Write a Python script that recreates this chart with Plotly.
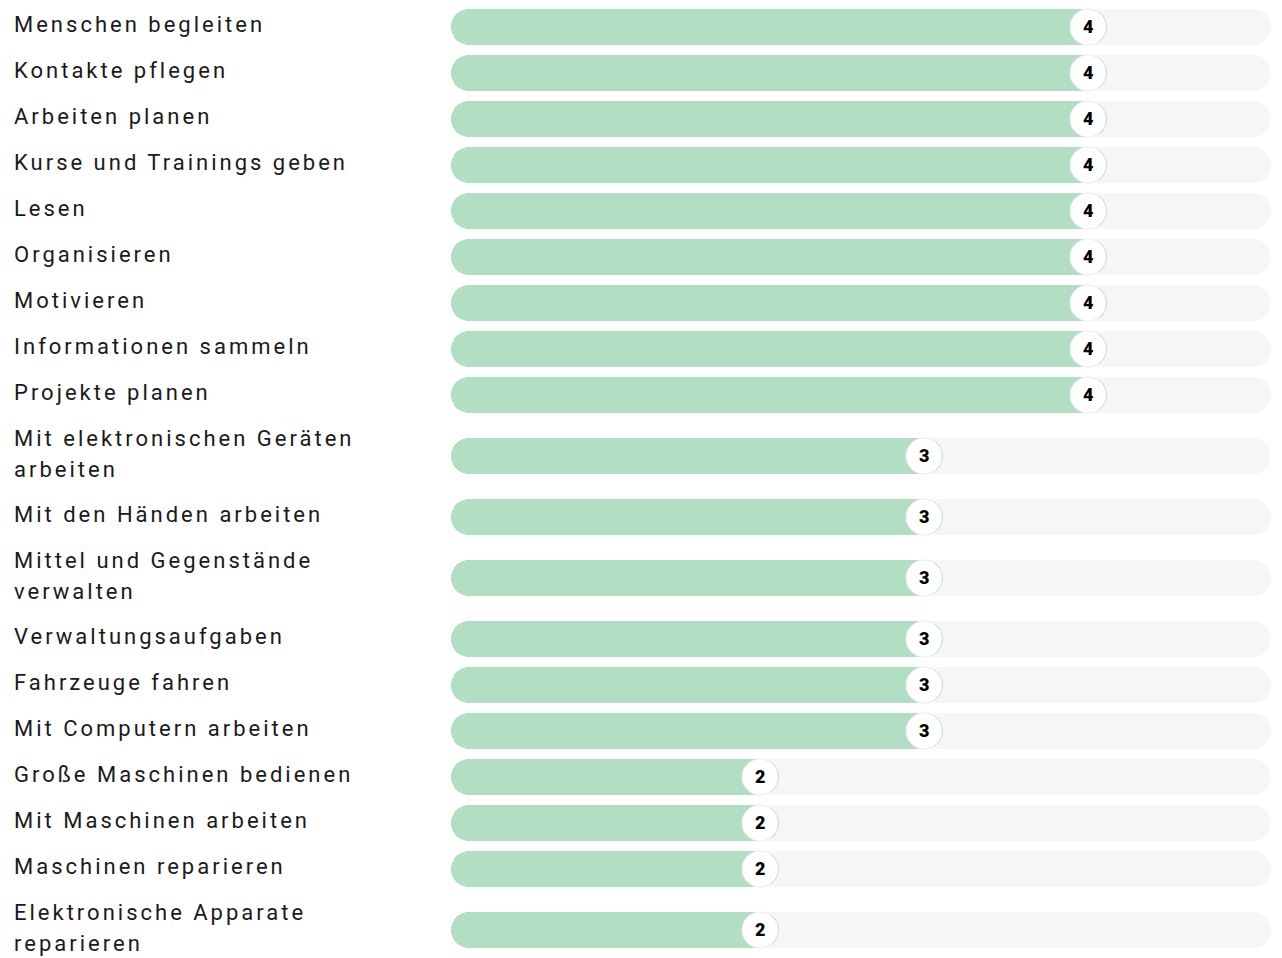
import plotly.graph_objects as go

# ---- data ----
labels = [
    "Menschen begleiten",
    "Kontakte pflegen",
    "Arbeiten planen",
    "Kurse und Trainings geben",
    "Lesen",
    "Organisieren",
    "Motivieren",
    "Informationen sammeln",
    "Projekte planen",
    "Mit elektronischen Geräten<br>arbeiten",
    "Mit den Händen arbeiten",
    "Mittel und Gegenstände<br>verwalten",
    "Verwaltungsaufgaben",
    "Fahrzeuge fahren",
    "Mit Computern arbeiten",
    "Große Maschinen bedienen",
    "Mit Maschinen arbeiten",
    "Maschinen reparieren",
    "Elektronische Apparate<br>reparieren",
]
scores = [4, 4, 4, 4, 4, 4, 4, 4, 4, 3, 3, 3, 3, 3, 3, 2, 2, 2, 2]
max_score = 5

# ---- layout constants (pixels) ----
W, H = 1282, 958
ROW_H = 46        # height of a single-line row
LINE_H = 30       # extra height per additional label line
BAR_H = 36
TOP = 4
M_LEFT, M_RIGHT = 451, 11
LABEL_X = 12
RADIUS = BAR_H / 2

GREEN = "#b2dec4"
TRACK = "#f6f6f6"
TEXT = "#1a1a1a"

# row centres from label line counts
centres = []
y = TOP
for lab in labels:
    n = lab.count("<br>") + 1
    h = ROW_H + LINE_H * (n - 1)
    centres.append(y + h / 2)
    y += h

n_rows = len(labels)
fig = go.Figure()

def rounded_bar(length_list, color):
    # two overlapping halves, each rounded at its outer end
    left = [0.55 * v for v in length_list]
    right_base = [0.45 * v for v in length_list]
    fig.add_trace(go.Bar(
        orientation="h", y=centres, base=left, x=[-v for v in left],
        width=BAR_H, marker=dict(color=color, line=dict(width=0), cornerradius=RADIUS),
        hoverinfo="skip", showlegend=False))
    fig.add_trace(go.Bar(
        orientation="h", y=centres, base=right_base, x=[v - b for v, b in zip(length_list, right_base)],
        width=BAR_H, marker=dict(color=color, line=dict(width=0), cornerradius=RADIUS),
        hoverinfo="skip", showlegend=False))

rounded_bar([max_score] * n_rows, TRACK)
rounded_bar(scores, GREEN)

shapes = []
annotations = []
plot_w = W - M_LEFT - M_RIGHT
for lab, v, c in zip(labels, scores, centres):
    shapes.append(dict(
        type="circle", xref="x", yref="y",
        xsizemode="pixel", ysizemode="pixel",
        xanchor=v, yanchor=c,
        x0=-2 * RADIUS - 1, x1=-1, y0=-RADIUS, y1=RADIUS,
        fillcolor="white", line=dict(color="#efefef", width=1), layer="above"))
    annotations.append(dict(
        x=v, y=c, xref="x", yref="y", xshift=-RADIUS - 1, yshift=1, text=str(v), showarrow=False,
        xanchor="center", yanchor="middle",
        font=dict(family="Roboto", size=18, color="#000", weight=900)))
    lines = lab.split("<br>")
    nl = len(lines)
    for k, ln in enumerate(lines):
        annotations.append(dict(
            x=(LABEL_X - M_LEFT) / plot_w, xref="paper", y=c, yref="y",
            yshift=-(k - (nl - 1) / 2) * 31 + 2.5,
            text=ln, showarrow=False, xanchor="left", yanchor="middle", align="left",
            font=dict(family="Roboto", size=22, color=TEXT)))

fig.update_layout(
    width=W, height=H,
    margin=dict(l=M_LEFT, r=M_RIGHT, t=0, b=0, pad=0),
    paper_bgcolor="white", plot_bgcolor="white",
    barmode="overlay", bargap=0,
    xaxis=dict(range=[0, max_score], visible=False, fixedrange=True),
    yaxis=dict(range=[H, 0], visible=False, fixedrange=True),
    shapes=shapes, annotations=annotations,
    showlegend=False,
)

post = """
document.body.style.margin='0';
document.querySelectorAll('.annotation-text').forEach(function(t){
  if (t.textContent.length > 1) { t.style.letterSpacing = '3px'; }
});
"""
fig.write_html("out.html", config={"displayModeBar": False}, post_script=post)
